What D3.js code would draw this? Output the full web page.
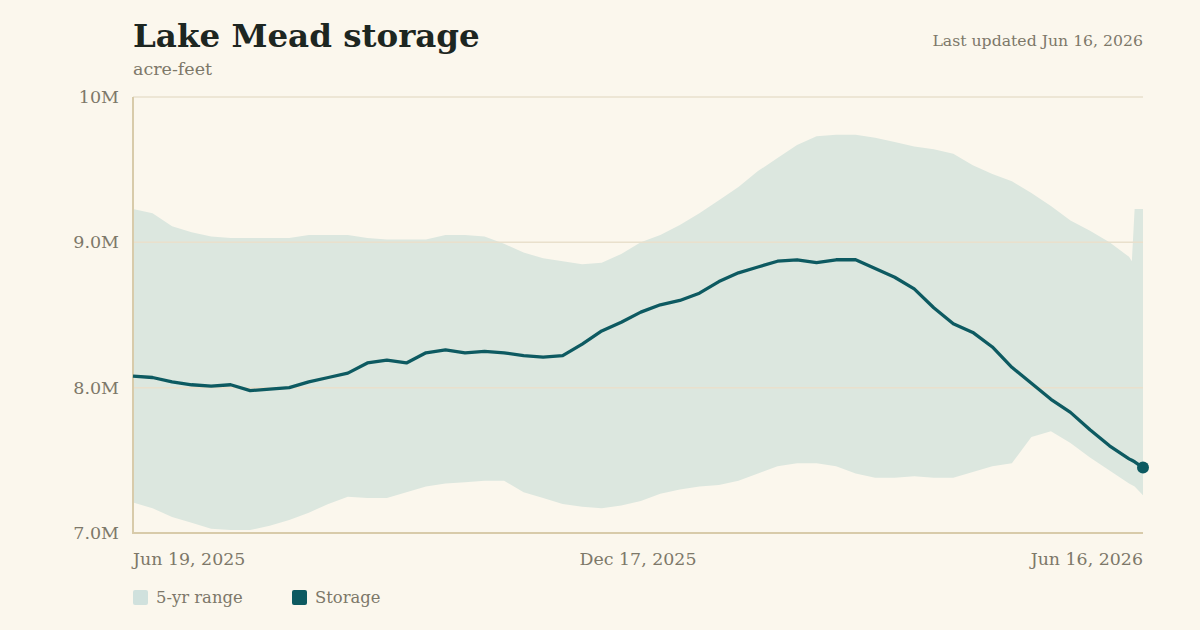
<!DOCTYPE html>
<html>
<head>
<meta charset="utf-8">
<script src="https://cdn.jsdelivr.net/npm/d3@7"></script>
<style>
  body { margin: 0; background: #fbf7ed; }
  svg { display: block; }
  text { font-family: Georgia, "DejaVu Serif", serif; }
</style>
</head>
<body>
<svg width="1200" height="630"></svg>
<script>
// weekly readings (plus a few days at the end)
const dates = ["2025-06-19","2025-06-26","2025-07-03","2025-07-10","2025-07-17","2025-07-24","2025-07-31",
  "2025-08-07","2025-08-14","2025-08-21","2025-08-28","2025-09-04","2025-09-11","2025-09-18","2025-09-25",
  "2025-10-02","2025-10-09","2025-10-16","2025-10-23","2025-10-30","2025-11-06","2025-11-13","2025-11-20",
  "2025-11-27","2025-12-04","2025-12-11","2025-12-18","2025-12-25","2026-01-01","2026-01-08","2026-01-15",
  "2026-01-22","2026-01-29","2026-02-05","2026-02-12","2026-02-19","2026-02-26","2026-03-05","2026-03-12",
  "2026-03-19","2026-03-26","2026-04-02","2026-04-09","2026-04-16","2026-04-23","2026-04-30","2026-05-07",
  "2026-05-14","2026-05-21","2026-05-28","2026-06-04","2026-06-11","2026-06-12","2026-06-13","2026-06-16"];

// storage, millions of acre-feet
const storage = [8.08,8.07,8.04,8.02,8.01,8.02,7.98,7.99,8.00,8.04,8.07,8.10,8.17,8.19,8.17,
  8.24,8.26,8.24,8.25,8.24,8.22,8.21,8.22,8.30,8.39,8.45,8.52,8.57,8.60,8.65,8.73,
  8.79,8.83,8.87,8.88,8.86,8.88,8.88,8.82,8.76,8.68,8.55,8.44,8.38,8.28,8.14,8.03,
  7.92,7.83,7.71,7.60,7.51,7.50,7.49,7.45];

// 5-yr range
const rangeHigh = [9.23,9.20,9.11,9.07,9.04,9.03,9.03,9.03,9.03,9.05,9.05,9.05,9.03,9.02,9.02,
  9.02,9.05,9.05,9.04,8.99,8.93,8.89,8.87,8.85,8.86,8.92,9.00,9.05,9.12,9.20,9.29,
  9.38,9.49,9.58,9.67,9.73,9.74,9.74,9.72,9.69,9.66,9.64,9.61,9.53,9.47,9.42,9.34,
  9.25,9.15,9.08,9.00,8.90,8.87,9.23,9.23];
const rangeLow = [7.21,7.17,7.11,7.07,7.03,7.02,7.02,7.05,7.09,7.14,7.20,7.25,7.24,7.24,7.28,
  7.32,7.34,7.35,7.36,7.36,7.28,7.24,7.20,7.18,7.17,7.19,7.22,7.27,7.30,7.32,7.33,
  7.36,7.41,7.46,7.48,7.48,7.46,7.41,7.38,7.38,7.39,7.38,7.38,7.42,7.46,7.48,7.66,
  7.70,7.62,7.52,7.43,7.34,7.33,7.32,7.26];

const yTicks = [7, 8, 9, 10];
const yTickLabels = ["7.0M", "8.0M", "9.0M", "10M"];
const xTicks = ["2025-06-19", "2025-12-17", "2026-06-16"];

const parse = d3.timeParse("%Y-%m-%d");
const fmt = d3.timeFormat("%b %-d, %Y");

const data = dates.map((d, i) => ({
  date: parse(d), value: storage[i], hi: rangeHigh[i], lo: rangeLow[i]
}));

const svg = d3.select("svg");
const margin = {left: 133, right: 1143, top: 97, bottom: 533};
const grey = "#7d7869";

const x = d3.scaleTime()
  .domain([parse(dates[0]), parse(dates[dates.length - 1])])
  .range([margin.left, margin.right]);
const y = d3.scaleLinear().domain([7, 10]).range([margin.bottom, margin.top]);

// title block
svg.append("text").attr("x", 133).attr("y", 47)
  .style("font-size", "32.5px").style("font-weight", "bold").attr("fill", "#1d2621")
  .text("Lake Mead storage");
svg.append("text").attr("x", 133).attr("y", 75)
  .style("font-size", "17.5px").attr("fill", grey)
  .text("acre-feet");
svg.append("text").attr("x", 1143).attr("y", 46).attr("text-anchor", "end")
  .style("font-size", "15.7px").attr("fill", grey)
  .text("Last updated " + fmt(parse(xTicks[2])));

// band
svg.append("path").datum(data)
  .attr("fill", "#dce7df")
  .attr("d", d3.area().x(d => x(d.date)).y0(d => y(d.lo)).y1(d => y(d.hi)));

// gridlines
svg.append("g").selectAll("line")
  .data(yTicks.filter(t => t > 7))
  .join("line")
  .attr("x1", margin.left).attr("x2", margin.right)
  .attr("y1", d => y(d)).attr("y2", d => y(d))
  .attr("stroke", "#e9e0cc").attr("stroke-width", 1.5);

// axis lines
svg.append("line").attr("x1", margin.left).attr("x2", margin.left)
  .attr("y1", margin.top).attr("y2", margin.bottom + 1)
  .attr("stroke", "#d8cbaa").attr("stroke-width", 2);
svg.append("line").attr("x1", margin.left - 1).attr("x2", margin.right)
  .attr("y1", margin.bottom).attr("y2", margin.bottom)
  .attr("stroke", "#d8cbaa").attr("stroke-width", 2);

// y labels
svg.append("g").selectAll("text")
  .data(yTicks)
  .join("text")
  .attr("x", 119).attr("y", d => y(d) + 6)
  .attr("text-anchor", "end")
  .style("font-size", "17.5px").attr("fill", grey)
  .text((d, i) => yTickLabels[i]);

// x labels
svg.append("g").selectAll("text")
  .data(xTicks)
  .join("text")
  .attr("x", d => x(parse(d))).attr("y", 565)
  .attr("text-anchor", (d, i) => ["start", "middle", "end"][i])
  .style("font-size", "17.4px").attr("fill", grey)
  .text(d => fmt(parse(d)));

// storage line
svg.append("path").datum(data)
  .attr("fill", "none").attr("stroke", "#0d5a61").attr("stroke-width", 3.3)
  .attr("stroke-linejoin", "round")
  .attr("d", d3.line().x(d => x(d.date)).y(d => y(d.value)));

const last = data[data.length - 1];
svg.append("circle").attr("cx", x(last.date)).attr("cy", y(last.value)).attr("r", 6)
  .attr("fill", "#0d5a61");

// legend
const legend = [{ label: "5-yr range", color: "#d0e1dd", x: 133 }, { label: "Storage", color: "#0d5a61", x: 292 }];
const lg = svg.append("g").selectAll("g").data(legend).join("g")
  .attr("transform", d => `translate(${d.x}, 590)`);
lg.append("rect").attr("width", 15).attr("height", 15).attr("rx", 2).attr("fill", d => d.color);
lg.append("text").attr("x", 23).attr("y", 13)
  .style("font-size", "16.4px").attr("fill", grey)
  .text(d => d.label);
</script>
</body>
</html>
